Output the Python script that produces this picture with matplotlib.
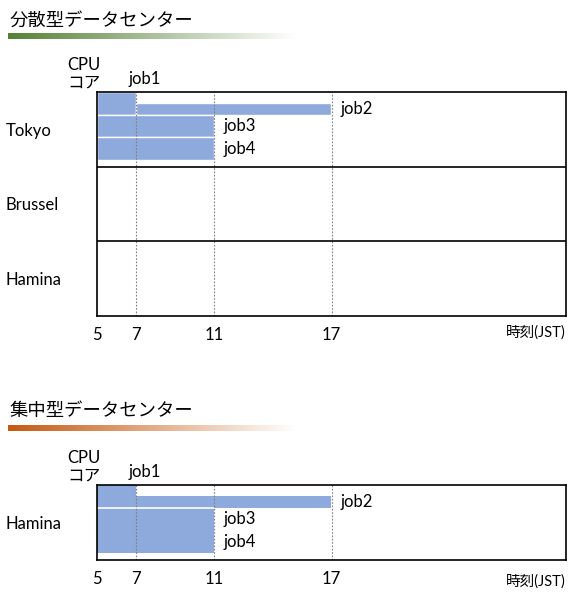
import numpy as np
import matplotlib.pyplot as plt
from matplotlib.colors import LinearSegmentedColormap

plt.rcParams['font.family'] = ['Lato', 'Noto Sans CJK JP', 'DejaVu Sans']

# ---- data ---------------------------------------------------------------
jobs = ["job1", "job2", "job3", "job4"]
job_start = [5, 7, 5, 5]          # JST hour
job_end = [7, 17, 11, 11]
job_core = [0, 0, 1, 2]           # CPU core lane (top = 0)
job_share = [1.0, 0.5, 1.0, 1.0]  # fraction of the lane used

time_ticks = [5, 7, 11, 17]
dist_sites = ["Tokyo", "Brussel", "Hamina"]
dist_job_site = ["Tokyo", "Tokyo", "Tokyo", "Tokyo"]
central_sites = ["Hamina"]

title_dist = "分散型データセンター"
title_central = "集中型データセンター"
xlabel = "時刻(JST)"
ylabel = "CPU\nコア"

# ---- layout -------------------------------------------------------------
W, H = 584, 594
DPI = 100
BAR = "#8EA9DB"
FS = 12            # label font size
ROW = 3.3          # lanes per site row (3 lanes + gap)
T_MAX = 29


def px_axes(fig, x0, y0, x1, y1):
    return fig.add_axes([x0 / W, 1 - y1 / H, (x1 - x0) / W, (y1 - y0) / H])


def gradient_bar(fig, x0, y0, x1, y1, color):
    ax = px_axes(fig, x0, y0, x1, y1)
    cmap = LinearSegmentedColormap.from_list("fade", [color, "#ffffff"])
    ax.imshow(np.linspace(0, 1, 256)[None, :], aspect="auto", cmap=cmap)
    ax.set_axis_off()


def draw_schedule(ax, sites, job_sites, merge_lanes, xlabel_drop):
    n = len(sites)
    ax.set_xlim(5, T_MAX)
    ax.set_ylim(n * ROW, 0)

    for i, name in enumerate(jobs):
        row = sites.index(job_sites[i]) * ROW
        top = row + job_core[i] + (1 - job_share[i])
        ax.barh(top + job_share[i] / 2, job_end[i] - job_start[i],
                height=job_share[i], left=job_start[i], color=BAR,
                edgecolor="white" if not merge_lanes else "none",
                linewidth=1.0, zorder=2)
        if i == 0:
            ax.annotate(name, xy=(job_end[i], 0), xytext=(-7, 5),
                        textcoords="offset pixels", ha="left", va="bottom",
                        fontsize=FS, annotation_clip=False)
        else:
            ax.annotate(name, xy=(job_end[i], top + job_share[i] / 2),
                        xytext=(9, 0), textcoords="offset pixels",
                        ha="left", va="center", fontsize=FS)

    if merge_lanes:
        # full-lane jobs run as one block, only the lane-0 boundary shows
        full = [i for i in range(len(jobs)) if job_core[i] > 0]
        ax.hlines(1, min(job_start[i] for i in full),
                  max(job_end[i] for i in full), color="white", lw=1.2, zorder=3)

    for t in time_ticks[1:]:
        ax.axvline(t, color="#7f7f7f", ls=(0, (1.5, 1.5)), lw=0.8, zorder=4)
    for k in range(1, n):
        ax.axhline(k * ROW, color="black", lw=1.2, zorder=5)

    for s in ax.spines.values():
        s.set_linewidth(1.2)
        s.set_zorder(6)

    ax.set_xticks(time_ticks)
    ax.set_xticklabels([str(t) for t in time_ticks], fontsize=FS)
    ax.tick_params(axis="x", length=0, pad=8)
    ax.set_yticks([(k + 0.5) * ROW for k in range(n)])
    ax.set_yticklabels(sites, fontsize=FS, ha="left")
    ax.tick_params(axis="y", length=0, pad=66)

    ax.annotate(xlabel, xy=(1, 0), xycoords="axes fraction",
                xytext=(0, -xlabel_drop), textcoords="offset pixels",
                ha="right", va="center", fontsize=10.5)
    ax.annotate(ylabel, xy=(0, 1), xycoords="axes fraction",
                xytext=(-30, 1), textcoords="offset pixels",
                ha="left", va="bottom", fontsize=FS, linespacing=1.15)


fig = plt.figure(figsize=(W / DPI, H / DPI), dpi=DPI)

# distributed
fig.text(10 / W, 1 - 20 / H, title_dist, fontsize=13.2, va="center", ha="left")
gradient_bar(fig, 8, 33, 295, 39, "#548235")
ax1 = px_axes(fig, 97, 92, 566, 316)
draw_schedule(ax1, dist_sites, dist_job_site, merge_lanes=False, xlabel_drop=17)

# centralized
fig.text(10 / W, 1 - 411 / H, title_central, fontsize=13.2, va="center", ha="left")
gradient_bar(fig, 8, 425, 295, 431, "#C55A11")
ax2 = px_axes(fig, 97, 485, 566, 560)
draw_schedule(ax2, central_sites, ["Hamina"] * len(jobs), merge_lanes=True,
              xlabel_drop=22)

fig.savefig("out.png", dpi=DPI)
